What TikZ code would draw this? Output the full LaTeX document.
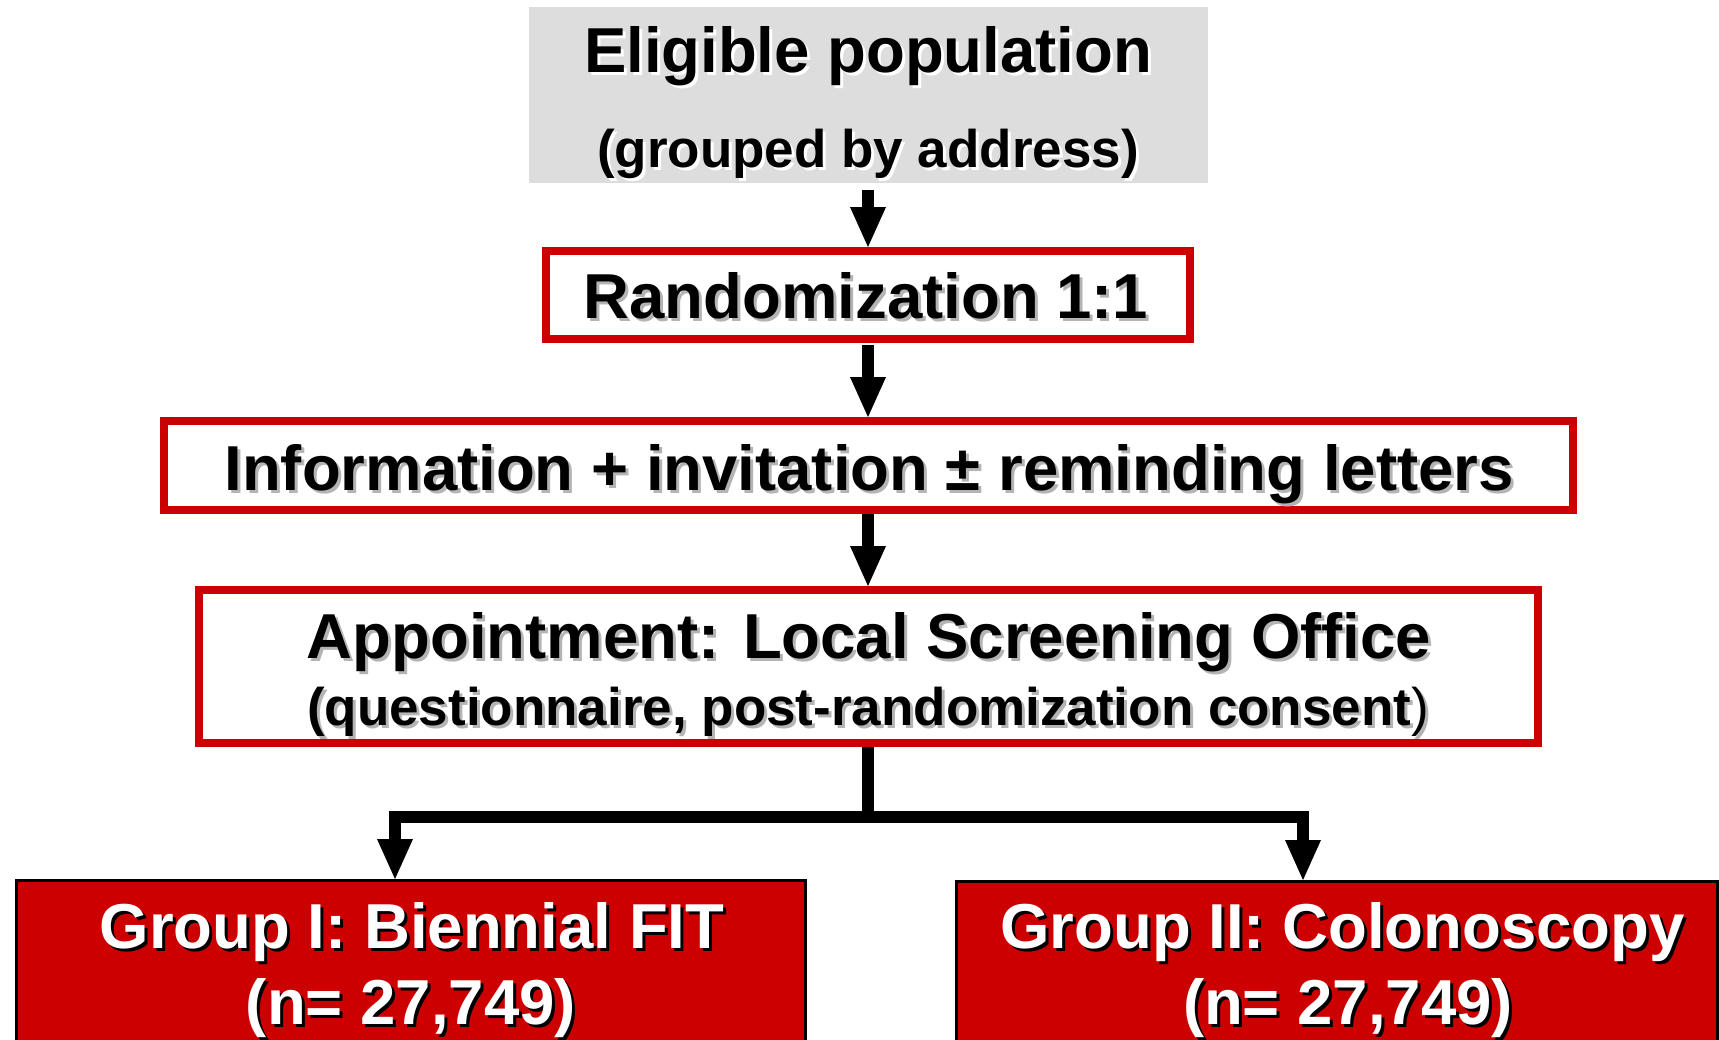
\documentclass[tikz,border=0pt]{standalone}
\usepackage{fontspec}
\setmainfont{Liberation Sans}
\usetikzlibrary{arrows.meta}
\definecolor{boxred}{HTML}{CC0000}
\definecolor{boxgray}{HTML}{DDDDDD}
\definecolor{shgray}{HTML}{B4B4B4}
\newcommand{\shadowed}[2]{\rlap{\kern3pt\raisebox{-3pt}{\textcolor{#1}{#2}}}#2}
\begin{document}
\begin{tikzpicture}[x=1pt,y=-1pt,
  bigtxt/.style={font=\fontsize{63.5}{70}\selectfont\bfseries, inner sep=0pt, anchor=base},
  smalltxt/.style={font=\fontsize{53}{60}\selectfont\bfseries, inner sep=0pt, anchor=base},
  redbox/.style={draw=boxred, line width=8pt, fill=white, inner sep=0pt},
  grpbox/.style={draw=black, line width=3pt, fill=boxred, inner sep=0pt},
  conn/.style={line width=12pt, line join=miter, line cap=butt,
    -{Triangle[length=40pt,width=36pt,line width=0pt]}},
]
\useasboundingbox (0,0) rectangle (1719,1039);

\node[fill=boxgray, inner sep=0pt, outer sep=0pt, minimum width=679pt, minimum height=176pt] (elig) at (868,95) {};
\node[bigtxt] (eligA) at (868,72) {\shadowed{white}{Eligible population}};
\node[smalltxt] (eligB) at (868,167) {\shadowed{white}{(grouped by address)}};

\node[redbox, minimum width=644pt, minimum height=88pt] (rand) at (868,295) {};
\node[bigtxt] (randT) at (866,318) {\shadowed{shgray}{Randomization 1:1}};

\node[redbox, minimum width=1409pt, minimum height=89pt] (info) at (868,465.5) {};
\node[bigtxt] (infoT) at (869,490) {\shadowed{shgray}{Information + invitation ± reminding letters}};

\node[redbox, minimum width=1339pt, minimum height=153pt] (appt) at (868,666.5) {};
\node[bigtxt] (apptA) at (869,658) {\shadowed{shgray}{Appointment: Local Screening Office}};
\node[smalltxt] (apptB) at (868,725) {\shadowed{shgray}{(questionnaire, post-randomization consent{\mdseries)}}};

\node[grpbox, minimum width=789pt, minimum height=178pt] (g1) at (411,969.5) {};
\node[bigtxt, text=white] (g1A) at (412,948) {\shadowed{black}{Group I: Biennial FIT}};
\node[bigtxt, text=white] (g1B) at (411,1024) {\shadowed{black}{(n= 27,749)}};

\node[grpbox, minimum width=760.5pt, minimum height=177pt] (g2) at (1336.75,970) {};
\node[bigtxt, text=white] (g2A) at (1342.5,948) {\shadowed{black}{Group II: Colonoscopy}};
\node[bigtxt, text=white] (g2B) at (1348,1024) {\shadowed{black}{(n= 27,749)}};

\draw[conn, shorten <=7pt] (elig.south) -- (rand.north);
\draw[conn, shorten <=2pt] (rand.south) -- (info.north);
\draw[conn] (info.south) -- (appt.north);
\coordinate (j) at (868,817);
\coordinate (jl) at (395,817);
\coordinate (jr) at (1303,817);
\draw[conn] (appt.south) -- (j) -| (jl |- g1.north);
\draw[conn] (j) -| (jr |- g2.north);
\end{tikzpicture}
\end{document}
